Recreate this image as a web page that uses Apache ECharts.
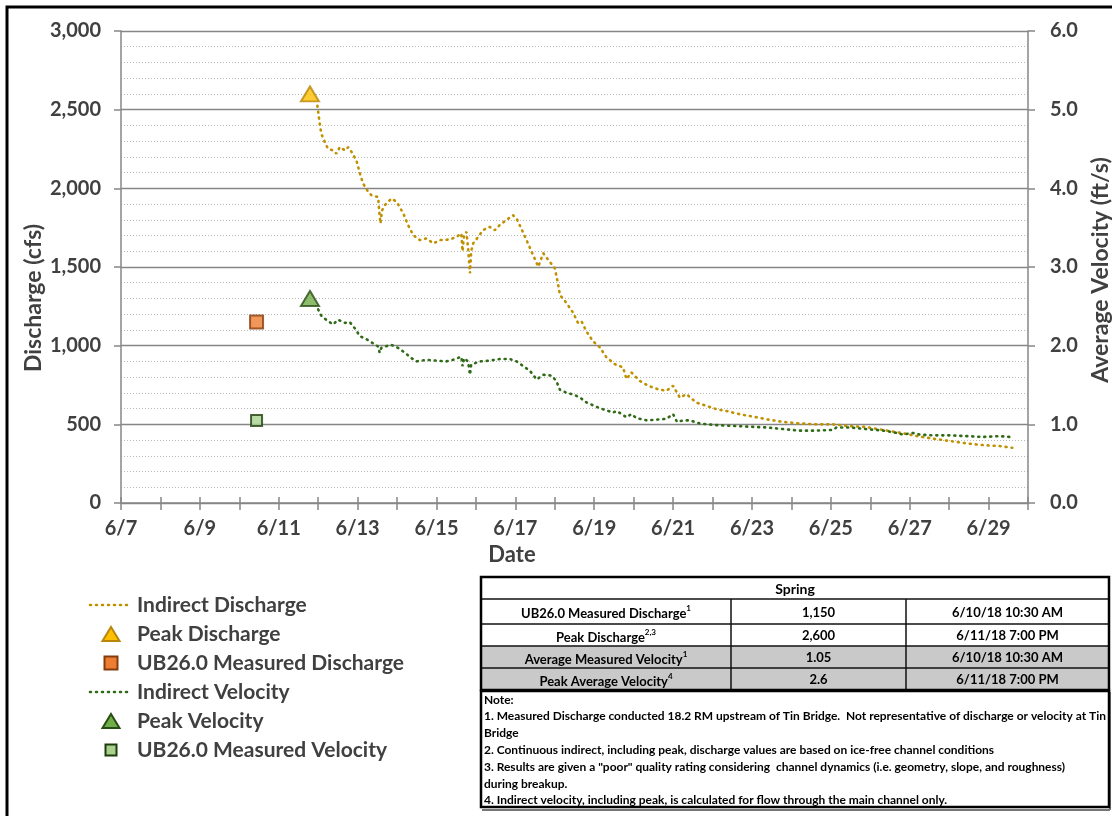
<!DOCTYPE html>
<html>
<head>
<meta charset="utf-8">
<script src="https://cdn.jsdelivr.net/npm/echarts@6/dist/echarts.min.js"></script>
<style>
html,body{margin:0;padding:0;background:#fff;}
#c{width:1112px;height:816px;}
</style>
</head>
<body>
<div id="c"></div>
<script>
// ---- Data (x = day of June 2018, fractional) ----
const dischargeDay = [11.98,12.04,12.08,12.17,12.25,12.38,12.46,12.55,12.68,12.76,12.85,12.97,13.06,13.14,13.27,13.35,13.52,13.55,13.58,13.62,13.69,13.86,13.99,14.16,14.28,14.41,14.58,14.75,14.92,15.09,15.34,15.51,15.63,15.66,15.70,15.76,15.80,15.85,15.88,15.93,16.06,16.18,16.35,16.48,16.60,16.77,16.94,17.03,17.15,17.32,17.45,17.58,17.71,17.87,18.00,18.08,18.13,18.30,18.47,18.59,18.68,18.80,18.97,19.14,19.31,19.52,19.73,19.82,19.94,20.15,20.37,20.62,20.83,21.00,21.17,21.34,21.59,21.85,22.10,22.35,22.69,23.03,23.37,23.79,24.21,24.63,25.06,25.48,25.90,26.33,26.75,27.17,27.59,28.02,28.44,28.86,29.28,29.60];
const dischargeCfs = [2525,2410,2346,2293,2251,2241,2220,2262,2241,2262,2230,2177,2093,2030,1977,1956,1945,1850,1777,1860,1893,1935,1914,1840,1766,1703,1671,1682,1650,1671,1675,1692,1713,1600,1700,1724,1620,1460,1600,1650,1692,1734,1755,1734,1766,1798,1829,1808,1745,1650,1576,1502,1587,1534,1492,1397,1323,1270,1207,1144,1154,1091,1028,990,926,883,862,787,830,777,745,723,713,745,670,692,638,617,596,585,564,549,532,515,506,500,500,489,483,464,447,426,409,394,379,368,362,351];

const velocityDay = [12.00,12.08,12.25,12.38,12.50,12.68,12.80,12.93,13.06,13.23,13.39,13.52,13.56,13.60,13.69,13.86,14.03,14.20,14.37,14.49,14.75,15.00,15.25,15.42,15.63,15.66,15.70,15.80,15.85,15.88,15.93,16.10,16.35,16.60,16.86,17.03,17.20,17.37,17.54,17.71,17.92,18.04,18.13,18.30,18.47,18.64,18.80,19.02,19.23,19.48,19.57,19.82,19.86,19.94,20.07,20.33,20.58,20.83,21.00,21.10,21.26,21.42,21.68,22.10,22.52,22.94,23.37,23.79,24.21,24.63,25.06,25.14,25.48,25.90,26.33,26.58,26.83,27.08,27.25,27.59,28.02,28.44,28.86,29.28,29.54];
const velocityFps = [2.46,2.38,2.31,2.27,2.33,2.29,2.30,2.22,2.12,2.08,2.03,1.99,1.91,1.97,1.99,2.01,1.97,1.91,1.84,1.80,1.82,1.81,1.80,1.82,1.86,1.74,1.84,1.80,1.63,1.76,1.76,1.80,1.81,1.83,1.83,1.80,1.74,1.68,1.57,1.63,1.62,1.55,1.44,1.40,1.38,1.34,1.28,1.23,1.19,1.15,1.17,1.09,1.07,1.13,1.08,1.05,1.06,1.07,1.13,1.03,1.05,1.05,1.01,0.99,0.98,0.97,0.96,0.94,0.92,0.92,0.93,0.96,0.96,0.94,0.92,0.90,0.87,0.89,0.87,0.86,0.86,0.85,0.84,0.85,0.84];

const peakDischarge = [[11.7917, 2600]];
const measuredDischarge = [[10.4375, 1150]];
const peakVelocity = [[11.7917, 2.6]];
const measuredVelocity = [[10.4375, 1.05]];

const seriesNames = ['Indirect Discharge','Peak Discharge','UB26.0 Measured Discharge','Indirect Velocity','Peak Velocity','UB26.0 Measured Velocity'];

const tableTitle = 'Spring';
const tableRows = [
  ['UB26.0 Measured Discharge','1','1,150','6/10/18 10:30 AM'],
  ['Peak Discharge','2,3','2,600','6/11/18 7:00 PM'],
  ['Average Measured Velocity','1','1.05','6/10/18 10:30 AM'],
  ['Peak Average Velocity','4','2.6','6/11/18 7:00 PM']
];
const noteLines = [
  'Note:',
  '1. Measured Discharge conducted 18.2 RM upstream of Tin Bridge.  Not representative of discharge or velocity at Tin',
  'Bridge',
  '2. Continuous indirect, including peak, discharge values are based on ice-free channel conditions',
  '3. Results are given a "poor" quality rating considering  channel dynamics (i.e. geometry, slope, and roughness)',
  'during breakup.',
  '4. Indirect velocity, including peak, is calculated for flow through the main channel only.'
];

// ---- styles ----
const zip = (a, b) => a.map((v, i) => [v, b[i]]);
const FONT = 'Lato, "Noto Sans", sans-serif';
const LBL = '#404040';
const AX = '#868686';
const C_DIS = '#BF9000', C_VEL = '#2F6B17';
const ST = {
  peakD:{color:'#FFC000', borderColor:'#B8860B', borderWidth:2},
  measD:{color:'#ED7D31', borderColor:'#843C0C', borderWidth:2},
  peakV:{color:'#70AD47', borderColor:'#2A4D15', borderWidth:2},
  measV:{color:'#A9D18E', borderColor:'#1F3D0C', borderWidth:2}
};

const mctx = document.createElement('canvas').getContext('2d');
function measure(text, font){ mctx.font = font; return mctx.measureText(text).width; }
const ctext = (x, y, text, font, fill, align) => ({type:'text', x:x, y:y, style:{text:text, font:font, fill:fill,
  textAlign:align || 'center', textVerticalAlign:'middle', align:align || 'center', verticalAlign:'middle'}});

// ---- graphic elements (frame, titles, legend, table) ----
const g = [];
g.push({type:'rect', shape:{x:7, y:7, width:1200, height:900}, style:{fill:null, stroke:'#000', lineWidth:3}, z:-10, silent:true});
g.push(Object.assign(ctext(34, 298, 'Discharge (cfs)', 'bold 23px ' + FONT, LBL), {rotation:Math.PI/2}));
g.push(Object.assign(ctext(1101, 270, 'Average Velocity (ft/s)', 'bold 23px ' + FONT, LBL), {rotation:Math.PI/2}));
g.push(ctext(512, 555, 'Date', 'bold 22px ' + FONT, LBL));

// legend
const legY0 = 605, legDy = 29, legIconX = 111, legTextX = 137;
const tri = (cx, cy, w, h, s) => ({type:'polygon', shape:{points:[[cx, cy-h/2],[cx+w/2, cy+h/2],[cx-w/2, cy+h/2]]},
  style:{fill:s.color, stroke:s.borderColor, lineWidth:s.borderWidth, lineJoin:'miter'}});
const sq = (cx, cy, a, s) => ({type:'rect', shape:{x:cx-a/2, y:cy-a/2, width:a, height:a},
  style:{fill:s.color, stroke:s.borderColor, lineWidth:s.borderWidth}});
const dl = (cy, c) => ({type:'line', shape:{x1:90, y1:cy, x2:130, y2:cy},
  style:{stroke:c, lineWidth:2.6, lineDash:[1,5], lineCap:'round'}});
const legIcons = [
  (y) => dl(y, C_DIS),
  (y) => tri(legIconX, y, 17, 14, ST.peakD),
  (y) => sq(legIconX, y, 13, ST.measD),
  (y) => dl(y, C_VEL),
  (y) => tri(legIconX, y, 17, 14, ST.peakV),
  (y) => sq(legIconX, y, 11, ST.measV)
];
seriesNames.forEach((n, i) => {
  const y = legY0 + i * legDy;
  g.push(legIcons[i](y));
  g.push(ctext(legTextX, y, n, 'bold 21px ' + FONT, LBL, 'left'));
});

// table
const TL = 481, TR = 1109, TT = 577;
const rowY = [577, 599, 624, 646, 668, 690];
const colX = [481, 731, 906, 1109];
g.push({type:'rect', shape:{x:TL, y:rowY[3], width:TR-TL, height:rowY[5]-rowY[3]}, style:{fill:'#c9c9c9'}});
for (let i = 1; i < 5; i++) {
  g.push({type:'line', shape:{x1:TL, y1:rowY[i], x2:TR, y2:rowY[i]}, style:{stroke:'#111', lineWidth:1.5}});
}
for (let j = 1; j < 3; j++) {
  g.push({type:'line', shape:{x1:colX[j], y1:rowY[1], x2:colX[j], y2:rowY[5]}, style:{stroke:'#111', lineWidth:1.5}});
}
g.push({type:'rect', shape:{x:TL, y:TT, width:TR-TL, height:rowY[5]-TT}, style:{fill:null, stroke:'#000', lineWidth:2.5}});
g.push(ctext((TL+TR)/2, (rowY[0]+rowY[1])/2 + 1, tableTitle, 'bold 14px ' + FONT, '#000'));
tableRows.forEach((r, i) => {
  const cy = (rowY[i+1] + rowY[i+2]) / 2 + 1;
  g.push({type:'text', x:(colX[0]+colX[1])/2, y:cy, style:{
    text:'{m|' + r[0] + '}{s|' + r[1] + '}',
    textAlign:'center', textVerticalAlign:'middle', align:'center', verticalAlign:'middle',
    rich:{
      m:{font:'bold 13px ' + FONT, fill:'#000', color:'#000', lineHeight:16, verticalAlign:'bottom'},
      s:{font:'bold 8px ' + FONT, fill:'#000', color:'#000', lineHeight:16, verticalAlign:'top'}
    }}});
  g.push(ctext((colX[1]+colX[2])/2, cy, r[2], 'bold 13px ' + FONT, '#000'));
  g.push(ctext((colX[2]+colX[3])/2, cy, r[3], 'bold 13px ' + FONT, '#000'));
});
// note box
g.push({type:'line', shape:{x1:TL+1, y1:810, x2:TR+1, y2:810}, style:{stroke:'#777', lineWidth:2}});
g.push({type:'line', shape:{x1:TR+1, y1:692, x2:TR+1, y2:810}, style:{stroke:'#777', lineWidth:2}});
g.push({type:'rect', shape:{x:TL, y:691, width:TR-TL, height:116}, style:{fill:'#fff', stroke:'#000', lineWidth:2.5}});
const noteFont = 'bold 11px ' + FONT;
const noteScale = 622 / measure(noteLines[1], noteFont);
noteLines.forEach((t, i) => {
  g.push({type:'text', x:484, y:700 + i*16.8, scaleX:noteScale, originX:0, originY:0,
    style:{text:t, font:noteFont, fill:'#000', textAlign:'left', textVerticalAlign:'middle', align:'left', verticalAlign:'middle'}});
});

// ---- chart ----
const chart = echarts.init(document.getElementById('c'), null, {renderer:'canvas'});
const dotted = (c) => ({color:c, width:2.6, type:[1,5], cap:'round'});
const axLabel = {fontSize:20, fontWeight:'bold', color:LBL, fontFamily:FONT};
chart.setOption({
  backgroundColor:'#fff',
  animation:false,
  textStyle:{fontFamily:FONT},
  grid:{left:121, right:84, top:31, bottom:313, containLabel:false},
  xAxis:[{
    type:'value', min:7, max:30, interval:1,
    axisLine:{show:true, lineStyle:{color:AX, width:1.5}},
    axisTick:{show:true, length:7, lineStyle:{color:AX, width:1.5}},
    axisLabel:Object.assign({margin:16, formatter:(v) => (v % 2 === 1 ? '6/' + v : '')}, axLabel),
    splitLine:{show:false}
  },{
    type:'value', min:7, max:30, interval:1, position:'bottom',
    axisLine:{show:false}, axisLabel:{show:false}, splitLine:{show:false},
    axisTick:{show:true, inside:true, length:6, lineStyle:{color:AX, width:1.5}}
  }],
  yAxis:[{
    type:'value', min:0, max:3000, interval:500,
    axisLine:{show:true, lineStyle:{color:AX, width:1.5}},
    axisTick:{show:true, length:7, lineStyle:{color:AX, width:1.5}},
    axisLabel:Object.assign({margin:20, formatter:(v) => v.toLocaleString('en-US')}, axLabel),
    splitLine:{show:true, lineStyle:{color:AX, width:1.3}},
    minorTick:{show:false, splitNumber:5},
    minorSplitLine:{show:true, lineStyle:{color:'#b8b8b8', width:1, type:[1,2]}}
  },{
    type:'value', min:0, max:6, interval:1, position:'right',
    axisLine:{show:true, lineStyle:{color:AX, width:1.5}},
    axisTick:{show:true, length:7, lineStyle:{color:AX, width:1.5}},
    axisLabel:Object.assign({margin:22, formatter:(v) => v.toFixed(1)}, axLabel),
    splitLine:{show:false}
  }],
  series:[
    {name:seriesNames[0], type:'line', yAxisIndex:0, data:zip(dischargeDay, dischargeCfs), symbol:'none',
      color:C_DIS, lineStyle:dotted(C_DIS), z:3},
    {name:seriesNames[1], type:'scatter', yAxisIndex:0, data:peakDischarge, symbol:'triangle', symbolSize:[18,15],
      itemStyle:ST.peakD, z:5},
    {name:seriesNames[2], type:'scatter', yAxisIndex:0, data:measuredDischarge, symbol:'rect', symbolSize:13,
      itemStyle:ST.measD, z:5},
    {name:seriesNames[3], type:'line', yAxisIndex:1, data:zip(velocityDay, velocityFps), symbol:'none',
      color:C_VEL, lineStyle:dotted(C_VEL), z:3},
    {name:seriesNames[4], type:'scatter', yAxisIndex:1, data:peakVelocity, symbol:'triangle', symbolSize:[18,15],
      itemStyle:ST.peakV, z:5},
    {name:seriesNames[5], type:'scatter', yAxisIndex:1, data:measuredVelocity, symbol:'rect', symbolSize:11,
      itemStyle:ST.measV, z:5}
  ],
  graphic:{elements:g}
});
</script>
</body>
</html>
